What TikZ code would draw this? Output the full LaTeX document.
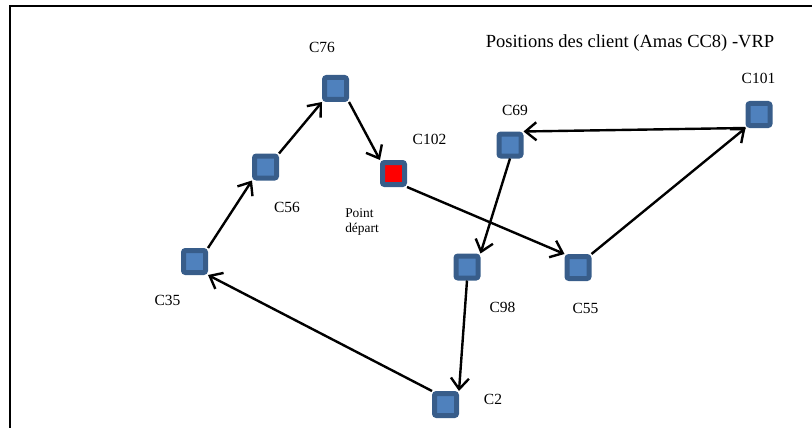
\documentclass[tikz,border=0pt]{standalone}
\usepackage{fontspec}
\setmainfont{Liberation Serif}
\usetikzlibrary{arrows.meta,positioning}
\definecolor{CliBlue}{HTML}{4F81BD}
\definecolor{CliEdge}{HTML}{385D8A}
\definecolor{CliRed}{HTML}{FF0000}

\begin{document}
\begin{tikzpicture}[x=1pt,y=-1pt,
    client/.style={draw=CliEdge,fill=CliBlue,line width=5pt,
                   rounded corners=2pt,minimum size=22pt,inner sep=0pt},
    depot/.style={client,fill=CliRed},
    arrow/.style={-{Straight Barb[length=11pt,width=18pt,line width=2.4pt]},
                  line width=2.4pt},
    label/.style={font=\fontsize{15.5}{17}\selectfont,inner sep=0pt}]

    \useasboundingbox (0,0) rectangle (812,428);
    \draw[line width=2.6pt] (10,428) -- (10,6) -- (812,6);

    \node[label] (title) at (630,43)
      {\fontsize{18.5}{20}\selectfont Positions des client (Amas CC8) -VRP};

    \node[client] (c76) at (335.5,88.5) {};
    \node[client] (c56) at (265.5,167) {};
    \node[client] (c35) at (194.5,261.5) {};
    \node[depot] (c102) at (393.5,173.5) {};
    \node[client] (c69) at (510,145) {};
    \node[client] (c101) at (759,114.5) {};
    \node[client] (c98) at (467,267) {};
    \node[client] (c55) at (578,267.5) {};
    \node[client] (c2) at (445.5,404.5) {};

    \node[label] (l76) at (322,47) {C76};
    \node[label] (l56) at (287,207) {C56};
    \node[label] (l35) at (167.5,300) {C35};
    \node[label] (l102) at (429.5,139) {C102};
    \node[label,font=\fontsize{13.4}{15}\selectfont,align=left]
      (start) at (362,222) {Point\\départ};
    \node[label] (l69) at (515,110) {C69};
    \node[label] (l101) at (758.5,78) {C101};
    \node[label] (l98) at (502.5,307) {C98};
    \node[label] (l55) at (585.5,308) {C55};
    \node[label] (l2) at (493,399) {C2};

    \draw[arrow] (c35.north east) -- (c56.south west);
    \draw[arrow] (c56.north east) -- (c76.south west);
    \draw[arrow] (c76.south east) -- (c102.north west);
    \draw[arrow] (c102.south east) -- (c55.north west);
    \draw[arrow] (c55.north east) -- (c101.south west);
    \draw[arrow] (c101.south west) -- (c69.north east);
    \draw[arrow] (c69.south) -- (c98.north east);
    \draw[arrow] (c98.south) -- (c2.north east);
    \draw[arrow] (c2.north west) -- (c35.south east);
  \end{tikzpicture}
\end{document}
